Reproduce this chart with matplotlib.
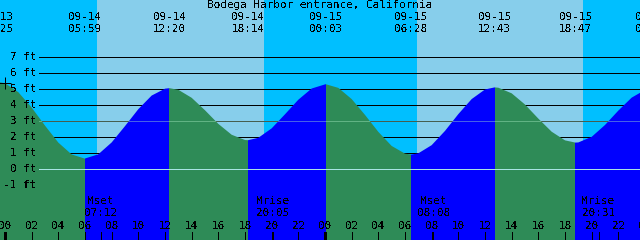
import numpy as np
import matplotlib
matplotlib.use("Agg")
import matplotlib.pyplot as plt
from matplotlib.patches import Polygon

plt.rcParams['font.family'] = ['DejaVu Sans Mono']
plt.rcParams['font.size'] = 7.9
plt.rcParams['text.antialiased'] = False

title = "Bodega Harbor entrance, California"

# water level (hours from 09-14 00:00, feet)
hours = [-1, -0.58, 0, 1, 2, 3, 4, 5, 5.98, 7, 8, 9, 10, 11, 12, 12.33,
         13, 14, 15, 16, 17, 18, 18.23, 19, 20, 21, 22, 23, 24.05, 25, 26,
         27, 28, 29, 30, 30.47, 31, 32, 33, 34, 35, 36, 36.72, 37, 38, 39,
         40, 41, 42, 42.78, 43, 44, 45, 46, 47, 48]
feet = [5.40, 5.45, 5.36, 4.80, 3.84, 2.71, 1.65, 0.91, 0.65, 0.92, 1.66,
        2.68, 3.74, 4.59, 5.02, 5.05, 4.95, 4.45, 3.67, 2.82, 2.14, 1.81,
        1.80, 1.95, 2.54, 3.42, 4.33, 5.03, 5.30, 5.07, 4.37, 3.38, 2.32,
        1.44, 0.96, 0.90, 0.98, 1.49, 2.38, 3.43, 4.37, 4.97, 5.10, 5.08,
        4.73, 4.03, 3.15, 2.33, 1.79, 1.65, 1.66, 2.01, 2.75, 3.65, 4.46,
        4.94]

# high / low tide events (alternating, first one is a high)
tide_dates = ["09-13", "09-14", "09-14", "09-14", "09-15", "09-15",
              "09-15", "09-15", "09-16"]
tide_times = ["23:25", "05:59", "12:20", "18:14", "00:03", "06:28",
              "12:43", "18:47", "00:30"]

# sunrise / sunset (starts at night)
sun_dates = ["09-14", "09-14", "09-15", "09-15"]
sun_times = ["06:54", "19:26", "06:54", "19:21"]

moon_names = ["Mset", "Mrise", "Mset", "Mrise"]
moon_dates = ["09-14", "09-14", "09-15", "09-15"]
moon_times = ["07:12", "20:05", "08:08", "20:31"]

levels = [7, 6, 5, 4, 3, 2, 1, 0, -1]


def to_hours(d, t):
    day = int(d.split("-")[1]) - 14
    hh, mm = t.split(":")
    return day * 24 + int(hh) + int(mm) / 60


tide_h = [to_hours(d, t) for d, t in zip(tide_dates, tide_times)]
sun_h = [to_hours(d, t) for d, t in zip(sun_dates, sun_times)]
moon_h = [to_hours(d, t) for d, t in zip(moon_dates, moon_times)]

fig = plt.figure(figsize=(6.4, 2.4), dpi=100)
ax = fig.add_axes([0, 0, 1, 1])
x0, x1 = -0.375, 47.625
y0, y1 = -4.4375, 10.5625
ax.set_xlim(x0, x1)
ax.set_ylim(y0, y1)
ax.axis('off')

px = 0.72  # one pixel in points

# sky: night / day
edges = [-10] + sun_h + [60]
for i in range(len(edges) - 1):
    c = '#00bfff' if i % 2 == 0 else '#87ceeb'
    ax.axvspan(edges[i], edges[i + 1], color=c, lw=0, zorder=0)

# depth lines (behind water)
lx = 2.55
ax.hlines([l for l in levels if l >= 0], lx, x1, color='black', lw=px,
          zorder=1, antialiased=False)

# water, green while falling, blue while rising
verts = list(zip(hours, feet)) + [(hours[-1], y0 - 1), (hours[0], y0 - 1)]
water = Polygon(verts, closed=True, facecolor='none', edgecolor='none',
                transform=ax.transData)
ax.add_patch(water)
tedges = [-10] + tide_h + [60]
for i in range(len(tedges) - 1):
    c = '#0000ff' if i % 2 == 0 else '#2e8b57'
    span = ax.axvspan(tedges[i], tedges[i + 1], color=c, lw=0, zorder=2)
    span.set_clip_path(water)

# datum and mean lines
ax.hlines(0, lx, x1, color='#a8e4e4', lw=px, zorder=3, antialiased=False)
ax.hlines(3, lx, x1, color='#b0f0c8', lw=px, alpha=0.4, zorder=3,
          antialiased=False)

# marker at 00:00
ax.plot(0, np.interp(0, hours, feet), marker='+', ms=8, mew=px,
        color='black', zorder=5)

# level labels
for l in levels:
    ax.text(2.325, l, f"{l} ft", ha='right', va='center', zorder=6)

# title and tide event labels
ax.text((x0 + x1) / 2, 10.22, title, ha='center', va='center')
for h, d, t in zip(tide_h, tide_dates, tide_times):
    ax.text(h, 9.47, d, ha='center', va='center')
    ax.text(h, 8.78, t, ha='center', va='center')

# moon events
for h, n, t in zip(moon_h, moon_names, moon_times):
    ax.text(h, -2.03, n, ha='center', va='center', zorder=6)
    ax.text(h, -2.72, t, ha='center', va='center', zorder=6)
    ax.vlines(h, y0, -3.94, color='black', lw=px, zorder=5,
              antialiased=False)

# hour ticks
for hh in range(0, 49, 2):
    ax.text(hh, -3.56, f"{hh % 24:02d}", ha='center', va='center', zorder=6)
    ax.vlines(hh, y0, -3.94, color='black', lw=3 * px if hh % 24 == 0 else px,
              zorder=5, antialiased=False)

fig.savefig("out.png", dpi=100)
